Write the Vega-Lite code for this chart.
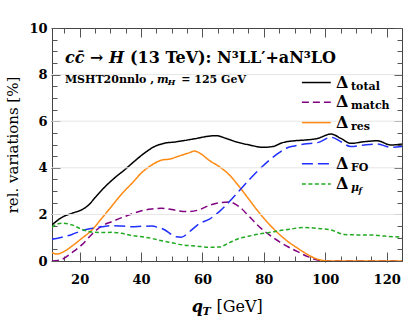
{
  "$schema": "https://vega.github.io/schema/vega-lite/v6.json",
  "autosize": {"type": "none"},
  "padding": {"left": 52, "top": 28, "right": 5, "bottom": 57},
  "width": 350,
  "height": 233,
  "background": "white",
  "data": {"values": [{"note": "annotation"}]},
  "config": {
    "view": {"stroke": "#444", "strokeWidth": 1},
    "axis": {"domain": false, "grid": false, "labelFont": "DejaVu Serif", "labelFontWeight": "bold", "labelFontSize": 13, "labelColor": "#000", "tickWidth": 1, "title": null}
  },
  "datasets": {
    "curves": [
      {"s": "total", "q": 11, "v": 1.55}, {"s": "total", "q": 14.2, "v": 1.87}, {"s": "total", "q": 17.5, "v": 2.05}, {"s": "total", "q": 20.7, "v": 2.2}, {"s": "total", "q": 22.9, "v": 2.4}, {"s": "total", "q": 25.1, "v": 2.73}, {"s": "total", "q": 28.3, "v": 3.19}, {"s": "total", "q": 31.6, "v": 3.59}, {"s": "total", "q": 34.8, "v": 3.93}, {"s": "total", "q": 38.1, "v": 4.31}, {"s": "total", "q": 41.3, "v": 4.65}, {"s": "total", "q": 44.5, "v": 4.92}, {"s": "total", "q": 47.8, "v": 5.06}, {"s": "total", "q": 50.5, "v": 5.1}, {"s": "total", "q": 53.6, "v": 5.16}, {"s": "total", "q": 58, "v": 5.26}, {"s": "total", "q": 61.2, "v": 5.34}, {"s": "total", "q": 64.5, "v": 5.38}, {"s": "total", "q": 67.7, "v": 5.26}, {"s": "total", "q": 70.9, "v": 5.12}, {"s": "total", "q": 75.3, "v": 4.98}, {"s": "total", "q": 79.6, "v": 4.88}, {"s": "total", "q": 82.8, "v": 4.91}, {"s": "total", "q": 86.1, "v": 5.08}, {"s": "total", "q": 90, "v": 5.16}, {"s": "total", "q": 93.2, "v": 5.19}, {"s": "total", "q": 97.5, "v": 5.26}, {"s": "total", "q": 101.9, "v": 5.45}, {"s": "total", "q": 105.1, "v": 5.26}, {"s": "total", "q": 108.3, "v": 5.05}, {"s": "total", "q": 112.7, "v": 5.12}, {"s": "total", "q": 117, "v": 5.16}, {"s": "total", "q": 121.3, "v": 4.98}, {"s": "total", "q": 125, "v": 5.02},
      {"s": "match", "q": 11, "v": 0.0}, {"s": "match", "q": 14.2, "v": 0.07}, {"s": "match", "q": 17.5, "v": 0.36}, {"s": "match", "q": 20.7, "v": 0.69}, {"s": "match", "q": 24, "v": 1.15}, {"s": "match", "q": 27.2, "v": 1.5}, {"s": "match", "q": 30.5, "v": 1.69}, {"s": "match", "q": 33.7, "v": 1.86}, {"s": "match", "q": 37, "v": 2.02}, {"s": "match", "q": 40.2, "v": 2.16}, {"s": "match", "q": 43.5, "v": 2.23}, {"s": "match", "q": 46.7, "v": 2.26}, {"s": "match", "q": 49.5, "v": 2.22}, {"s": "match", "q": 52.5, "v": 2.15}, {"s": "match", "q": 55.8, "v": 2.12}, {"s": "match", "q": 59, "v": 2.2}, {"s": "match", "q": 62.3, "v": 2.39}, {"s": "match", "q": 65.5, "v": 2.5}, {"s": "match", "q": 68.8, "v": 2.53}, {"s": "match", "q": 72, "v": 2.33}, {"s": "match", "q": 75.3, "v": 1.9}, {"s": "match", "q": 78.5, "v": 1.47}, {"s": "match", "q": 81.8, "v": 1.12}, {"s": "match", "q": 85, "v": 0.83}, {"s": "match", "q": 88, "v": 0.6}, {"s": "match", "q": 91, "v": 0.4}, {"s": "match", "q": 94.3, "v": 0.19}, {"s": "match", "q": 97.5, "v": 0.04}, {"s": "match", "q": 100.8, "v": 0.0}, {"s": "match", "q": 125, "v": 0.0},
      {"s": "res", "q": 11, "v": 0.36}, {"s": "res", "q": 12.6, "v": 0.3}, {"s": "res", "q": 14.2, "v": 0.36}, {"s": "res", "q": 17.5, "v": 0.64}, {"s": "res", "q": 20.7, "v": 0.97}, {"s": "res", "q": 24, "v": 1.33}, {"s": "res", "q": 27.2, "v": 1.83}, {"s": "res", "q": 30.5, "v": 2.36}, {"s": "res", "q": 33.7, "v": 2.88}, {"s": "res", "q": 37, "v": 3.33}, {"s": "res", "q": 40.2, "v": 3.79}, {"s": "res", "q": 43.5, "v": 4.12}, {"s": "res", "q": 46.7, "v": 4.33}, {"s": "res", "q": 49.5, "v": 4.38}, {"s": "res", "q": 52.5, "v": 4.51}, {"s": "res", "q": 55.8, "v": 4.65}, {"s": "res", "q": 57.4, "v": 4.72}, {"s": "res", "q": 59, "v": 4.64}, {"s": "res", "q": 62.3, "v": 4.31}, {"s": "res", "q": 65.5, "v": 4.05}, {"s": "res", "q": 68.8, "v": 3.69}, {"s": "res", "q": 72, "v": 3.19}, {"s": "res", "q": 75.3, "v": 2.62}, {"s": "res", "q": 78.5, "v": 2.07}, {"s": "res", "q": 81.8, "v": 1.57}, {"s": "res", "q": 85, "v": 1.15}, {"s": "res", "q": 88, "v": 0.82}, {"s": "res", "q": 91, "v": 0.55}, {"s": "res", "q": 94, "v": 0.3}, {"s": "res", "q": 97, "v": 0.1}, {"s": "res", "q": 100, "v": 0.01}, {"s": "res", "q": 102, "v": 0.0}, {"s": "res", "q": 125, "v": 0.0},
      {"s": "FO", "q": 11, "v": 0.93}, {"s": "FO", "q": 14.2, "v": 1.02}, {"s": "FO", "q": 17.5, "v": 1.14}, {"s": "FO", "q": 20.7, "v": 1.3}, {"s": "FO", "q": 24, "v": 1.4}, {"s": "FO", "q": 27.2, "v": 1.47}, {"s": "FO", "q": 30.5, "v": 1.52}, {"s": "FO", "q": 33.7, "v": 1.5}, {"s": "FO", "q": 37, "v": 1.47}, {"s": "FO", "q": 40.2, "v": 1.49}, {"s": "FO", "q": 43.5, "v": 1.5}, {"s": "FO", "q": 45.6, "v": 1.44}, {"s": "FO", "q": 47.8, "v": 1.33}, {"s": "FO", "q": 49.5, "v": 1.17}, {"s": "FO", "q": 51.5, "v": 1.04}, {"s": "FO", "q": 53.1, "v": 1.02}, {"s": "FO", "q": 55.8, "v": 1.26}, {"s": "FO", "q": 59, "v": 1.6}, {"s": "FO", "q": 62.3, "v": 1.8}, {"s": "FO", "q": 65.5, "v": 2.12}, {"s": "FO", "q": 68.8, "v": 2.55}, {"s": "FO", "q": 72, "v": 3.02}, {"s": "FO", "q": 75.3, "v": 3.5}, {"s": "FO", "q": 78.5, "v": 3.93}, {"s": "FO", "q": 81.8, "v": 4.33}, {"s": "FO", "q": 85, "v": 4.65}, {"s": "FO", "q": 87.5, "v": 4.85}, {"s": "FO", "q": 90, "v": 4.94}, {"s": "FO", "q": 93.2, "v": 5.02}, {"s": "FO", "q": 97.5, "v": 5.08}, {"s": "FO", "q": 101.9, "v": 5.31}, {"s": "FO", "q": 105.1, "v": 5.12}, {"s": "FO", "q": 108.3, "v": 4.91}, {"s": "FO", "q": 112.7, "v": 4.98}, {"s": "FO", "q": 117, "v": 5.02}, {"s": "FO", "q": 121.3, "v": 4.88}, {"s": "FO", "q": 125, "v": 4.91},
      {"s": "muf", "q": 11, "v": 1.44}, {"s": "muf", "q": 12.1, "v": 1.55}, {"s": "muf", "q": 14.2, "v": 1.62}, {"s": "muf", "q": 17.5, "v": 1.55}, {"s": "muf", "q": 20.7, "v": 1.36}, {"s": "muf", "q": 24, "v": 1.24}, {"s": "muf", "q": 27.2, "v": 1.22}, {"s": "muf", "q": 30.5, "v": 1.23}, {"s": "muf", "q": 33.7, "v": 1.19}, {"s": "muf", "q": 37, "v": 1.09}, {"s": "muf", "q": 40.2, "v": 1.04}, {"s": "muf", "q": 43.5, "v": 0.97}, {"s": "muf", "q": 46.7, "v": 0.87}, {"s": "muf", "q": 49.7, "v": 0.79}, {"s": "muf", "q": 53.6, "v": 0.69}, {"s": "muf", "q": 58, "v": 0.64}, {"s": "muf", "q": 62.3, "v": 0.59}, {"s": "muf", "q": 65.5, "v": 0.6}, {"s": "muf", "q": 68.8, "v": 0.79}, {"s": "muf", "q": 72, "v": 0.97}, {"s": "muf", "q": 75.3, "v": 1.07}, {"s": "muf", "q": 78.5, "v": 1.16}, {"s": "muf", "q": 81.8, "v": 1.22}, {"s": "muf", "q": 85, "v": 1.3}, {"s": "muf", "q": 88.3, "v": 1.36}, {"s": "muf", "q": 90, "v": 1.4}, {"s": "muf", "q": 93.2, "v": 1.44}, {"s": "muf", "q": 97.5, "v": 1.4}, {"s": "muf", "q": 101.9, "v": 1.33}, {"s": "muf", "q": 106.2, "v": 1.14}, {"s": "muf", "q": 110.5, "v": 1.12}, {"s": "muf", "q": 114.8, "v": 1.12}, {"s": "muf", "q": 119.2, "v": 1.07}, {"s": "muf", "q": 125, "v": 1.02}
    ]
  },
  "resolve": {"axis": {"x": "independent", "y": "independent"}},
  "layer": [
    {
      "data": {"name": "curves"},
      "mark": {"type": "line", "strokeWidth": 1.5, "interpolate": "monotone", "clip": true},
      "encoding": {
        "x": {"field": "q", "type": "quantitative", "scale": {"domain": [11, 125], "nice": false, "zero": false},
              "axis": {"orient": "bottom", "values": [20, 40, 60, 80, 100, 120], "tickSize": 1, "tickColor": "#444", "labelPadding": 11}},
        "y": {"field": "v", "type": "quantitative", "scale": {"domain": [0, 10], "nice": false, "zero": false},
              "axis": {"orient": "left", "values": [0, 2, 4, 6, 8, 10], "tickSize": 1, "tickColor": "#444", "labelPadding": 4,
                       "title": "rel. variations [%]", "titleFont": "DejaVu Serif", "titleFontWeight": "normal", "titleFontSize": 15, "titleColor": "#000", "titleX": -40, "titleY": 116.5, "titleAngle": -90, "titleBaseline": "middle", "titleAlign": "center"}},
        "color": {"field": "s", "type": "nominal", "scale": {"domain": ["total", "match", "res", "FO", "muf"], "range": ["#000000", "#800080", "#ff8a12", "#1f2fff", "#22aa22"]}, "legend": null},
        "strokeDash": {"field": "s", "type": "nominal", "scale": {"domain": ["total", "match", "res", "FO", "muf"], "range": [[1, 0], [7, 4], [1, 0], [11, 5], [4, 2.5]]}, "legend": null}
      }
    },
    {
      "data": {"name": "curves"},
      "mark": {"type": "point", "opacity": 0},
      "encoding": {
        "x": {"field": "q", "type": "quantitative", "axis": {"orient": "top", "offset": -233, "values": [20, 40, 60, 80, 100, 120], "tickSize": 9, "tickColor": "#555", "labels": false}},
        "y": {"field": "v", "type": "quantitative", "axis": {"orient": "right", "offset": -350, "values": [0, 2, 4, 6, 8, 10], "tickSize": 8, "tickColor": "#555", "labels": false}}
      }
    },
    {
      "data": {"name": "curves"},
      "mark": {"type": "point", "opacity": 0},
      "encoding": {
        "x": {"field": "q", "type": "quantitative", "axis": {"orient": "bottom", "offset": -233, "values": [20, 40, 60, 80, 100, 120], "tickSize": 9, "tickColor": "#555", "labels": false}},
        "y": {"field": "v", "type": "quantitative", "axis": {"orient": "left", "offset": -350, "values": [0, 2, 4, 6, 8, 10], "tickSize": 8, "tickColor": "#555", "labels": false}}
      }
    },
    {
      "data": {"name": "curves"},
      "mark": {"type": "point", "opacity": 0},
      "encoding": {
        "x": {"field": "q", "type": "quantitative", "axis": {"orient": "top", "offset": -233, "values": [15, 25, 30, 35, 45, 50, 55, 65, 70, 75, 85, 90, 95, 105, 110, 115], "tickSize": 5, "tickColor": "#555", "labels": false}},
        "y": {"field": "v", "type": "quantitative", "axis": {"orient": "right", "offset": -350, "values": [0.5, 1, 1.5, 2.5, 3, 3.5, 4.5, 5, 5.5, 6.5, 7, 7.5, 8.5, 9, 9.5], "tickSize": 5, "tickColor": "#555", "labels": false}}
      }
    },
    {
      "data": {"name": "curves"},
      "mark": {"type": "point", "opacity": 0},
      "encoding": {
        "x": {"field": "q", "type": "quantitative", "axis": {"orient": "bottom", "offset": -233, "values": [15, 25, 30, 35, 45, 50, 55, 65, 70, 75, 85, 90, 95, 105, 110, 115], "tickSize": 5, "tickColor": "#555", "labels": false}},
        "y": {"field": "v", "type": "quantitative", "axis": {"orient": "left", "offset": -350, "values": [0.5, 1, 1.5, 2.5, 3, 3.5, 4.5, 5, 5.5, 6.5, 7, 7.5, 8.5, 9, 9.5], "tickSize": 5, "tickColor": "#555", "labels": false}}
      }
    },
    {"mark": {"type": "rule", "color": "#e6e6e6", "strokeWidth": 1}, "encoding": {"y": {"datum": 2, "axis": null}}},
    {"mark": {"type": "rule", "color": "#e6e6e6", "strokeWidth": 1}, "encoding": {"y": {"datum": 4, "axis": null}}},
    {"mark": {"type": "rule", "color": "#e6e6e6", "strokeWidth": 1}, "encoding": {"y": {"datum": 6, "axis": null}}},
    {"mark": {"type": "rule", "color": "#e6e6e6", "strokeWidth": 1}, "encoding": {"y": {"datum": 8, "axis": null}}},

    {"mark": {"type": "text", "text": "cc̄ → H", "font": "DejaVu Serif", "align": "left", "baseline": "alphabetic", "fontSize": 16, "fontWeight": "bold", "fontStyle": "italic", "color": "#000"}, "encoding": {"x": {"datum": 15.2, "axis": null}, "y": {"datum": 8.48, "axis": null}}},
    {"mark": {"type": "text", "text": "(13 TeV): N³LL′+aN³LO", "font": "DejaVu Serif", "align": "left", "baseline": "alphabetic", "fontSize": 16, "fontWeight": "bold", "color": "#000"}, "encoding": {"x": {"datum": 36.4, "axis": null}, "y": {"datum": 8.48, "axis": null}}},
    {"mark": {"type": "text", "text": "MSHT20nnlo ,", "font": "DejaVu Serif", "align": "left", "baseline": "alphabetic", "fontSize": 11, "fontWeight": "bold", "color": "#000"}, "encoding": {"x": {"datum": 15.2, "axis": null}, "y": {"datum": 7.65, "axis": null}}},
    {"mark": {"type": "text", "text": "m", "font": "DejaVu Serif", "align": "left", "baseline": "alphabetic", "fontSize": 11, "fontWeight": "bold", "fontStyle": "italic", "color": "#000"}, "encoding": {"x": {"datum": 45.2, "axis": null}, "y": {"datum": 7.65, "axis": null}}},
    {"mark": {"type": "text", "text": "H", "font": "DejaVu Serif", "align": "left", "baseline": "alphabetic", "fontSize": 8, "fontWeight": "bold", "fontStyle": "italic", "dy": 2, "color": "#000"}, "encoding": {"x": {"datum": 48.7, "axis": null}, "y": {"datum": 7.65, "axis": null}}},
    {"mark": {"type": "text", "text": "= 125 GeV", "font": "DejaVu Serif", "align": "left", "baseline": "alphabetic", "fontSize": 11, "fontWeight": "bold", "color": "#000"}, "encoding": {"x": {"datum": 53.1, "axis": null}, "y": {"datum": 7.65, "axis": null}}},

    {"mark": {"type": "rule", "color": "#000000", "strokeWidth": 1.5}, "encoding": {"x": {"datum": 92.4, "axis": null}, "x2": {"datum": 101.8}, "y": {"datum": 7.66, "axis": null}}},
    {"mark": {"type": "rule", "color": "#800080", "strokeWidth": 1.5, "strokeDash": [7, 4]}, "encoding": {"x": {"datum": 92.4, "axis": null}, "x2": {"datum": 101.8}, "y": {"datum": 6.81, "axis": null}}},
    {"mark": {"type": "rule", "color": "#ff8a12", "strokeWidth": 1.5}, "encoding": {"x": {"datum": 92.4, "axis": null}, "x2": {"datum": 101.8}, "y": {"datum": 5.94, "axis": null}}},
    {"mark": {"type": "rule", "color": "#1f2fff", "strokeWidth": 1.5, "strokeDash": [11, 5]}, "encoding": {"x": {"datum": 92.4, "axis": null}, "x2": {"datum": 101.8}, "y": {"datum": 4.17, "axis": null}}},
    {"mark": {"type": "rule", "color": "#22aa22", "strokeWidth": 1.5, "strokeDash": [4, 2.5]}, "encoding": {"x": {"datum": 92.4, "axis": null}, "x2": {"datum": 101.8}, "y": {"datum": 3.31, "axis": null}}},

    {"mark": {"type": "text", "text": "Δ", "font": "DejaVu Serif", "align": "left", "baseline": "alphabetic", "fontSize": 16, "fontWeight": "bold", "dy": 5, "color": "#000"}, "encoding": {"x": {"datum": 103.5, "axis": null}, "y": {"datum": 7.66, "axis": null}}},
    {"mark": {"type": "text", "text": "Δ", "font": "DejaVu Serif", "align": "left", "baseline": "alphabetic", "fontSize": 16, "fontWeight": "bold", "dy": 5, "color": "#000"}, "encoding": {"x": {"datum": 103.5, "axis": null}, "y": {"datum": 6.81, "axis": null}}},
    {"mark": {"type": "text", "text": "Δ", "font": "DejaVu Serif", "align": "left", "baseline": "alphabetic", "fontSize": 16, "fontWeight": "bold", "dy": 5, "color": "#000"}, "encoding": {"x": {"datum": 103.5, "axis": null}, "y": {"datum": 5.94, "axis": null}}},
    {"mark": {"type": "text", "text": "Δ", "font": "DejaVu Serif", "align": "left", "baseline": "alphabetic", "fontSize": 16, "fontWeight": "bold", "dy": 5, "color": "#000"}, "encoding": {"x": {"datum": 103.5, "axis": null}, "y": {"datum": 4.17, "axis": null}}},
    {"mark": {"type": "text", "text": "Δ", "font": "DejaVu Serif", "align": "left", "baseline": "alphabetic", "fontSize": 16, "fontWeight": "bold", "dy": 5, "color": "#000"}, "encoding": {"x": {"datum": 103.5, "axis": null}, "y": {"datum": 3.31, "axis": null}}},

    {"mark": {"type": "text", "text": "total", "font": "DejaVu Serif", "align": "left", "baseline": "alphabetic", "fontSize": 11, "fontWeight": "bold", "dy": 7, "color": "#000"}, "encoding": {"x": {"datum": 108.4, "axis": null}, "y": {"datum": 7.66, "axis": null}}},
    {"mark": {"type": "text", "text": "match", "font": "DejaVu Serif", "align": "left", "baseline": "alphabetic", "fontSize": 11, "fontWeight": "bold", "dy": 7, "color": "#000"}, "encoding": {"x": {"datum": 108.4, "axis": null}, "y": {"datum": 6.81, "axis": null}}},
    {"mark": {"type": "text", "text": "res", "font": "DejaVu Serif", "align": "left", "baseline": "alphabetic", "fontSize": 11, "fontWeight": "bold", "dy": 7, "color": "#000"}, "encoding": {"x": {"datum": 108.4, "axis": null}, "y": {"datum": 5.94, "axis": null}}},
    {"mark": {"type": "text", "text": "FO", "font": "DejaVu Serif", "align": "left", "baseline": "alphabetic", "fontSize": 11, "fontWeight": "bold", "dy": 7, "color": "#000"}, "encoding": {"x": {"datum": 108.4, "axis": null}, "y": {"datum": 4.17, "axis": null}}},
    {"mark": {"type": "text", "text": "μ", "font": "DejaVu Serif", "align": "left", "baseline": "alphabetic", "fontSize": 11, "fontWeight": "bold", "fontStyle": "italic", "dy": 7, "color": "#000"}, "encoding": {"x": {"datum": 108.4, "axis": null}, "y": {"datum": 3.31, "axis": null}}},
    {"mark": {"type": "text", "text": "f", "font": "DejaVu Serif", "align": "left", "baseline": "alphabetic", "fontSize": 8, "fontWeight": "bold", "fontStyle": "italic", "dy": 9, "color": "#000"}, "encoding": {"x": {"datum": 110.8, "axis": null}, "y": {"datum": 3.31, "axis": null}}},

    {"mark": {"type": "text", "text": "q", "font": "DejaVu Serif", "align": "left", "baseline": "alphabetic", "fontSize": 16, "fontWeight": "bold", "fontStyle": "italic", "color": "#000"}, "encoding": {"x": {"datum": 56.5, "axis": null}, "y": {"datum": -2.17, "axis": null}}},
    {"mark": {"type": "text", "text": "T", "font": "DejaVu Serif", "align": "left", "baseline": "alphabetic", "fontSize": 11, "fontWeight": "bold", "fontStyle": "italic", "dy": 3, "color": "#000"}, "encoding": {"x": {"datum": 60.0, "axis": null}, "y": {"datum": -2.17, "axis": null}}},
    {"mark": {"type": "text", "text": "[GeV]", "font": "DejaVu Serif", "align": "left", "baseline": "alphabetic", "fontSize": 16, "fontWeight": "normal", "color": "#000"}, "encoding": {"x": {"datum": 64.6, "axis": null}, "y": {"datum": -2.17, "axis": null}}}
  ]
}
